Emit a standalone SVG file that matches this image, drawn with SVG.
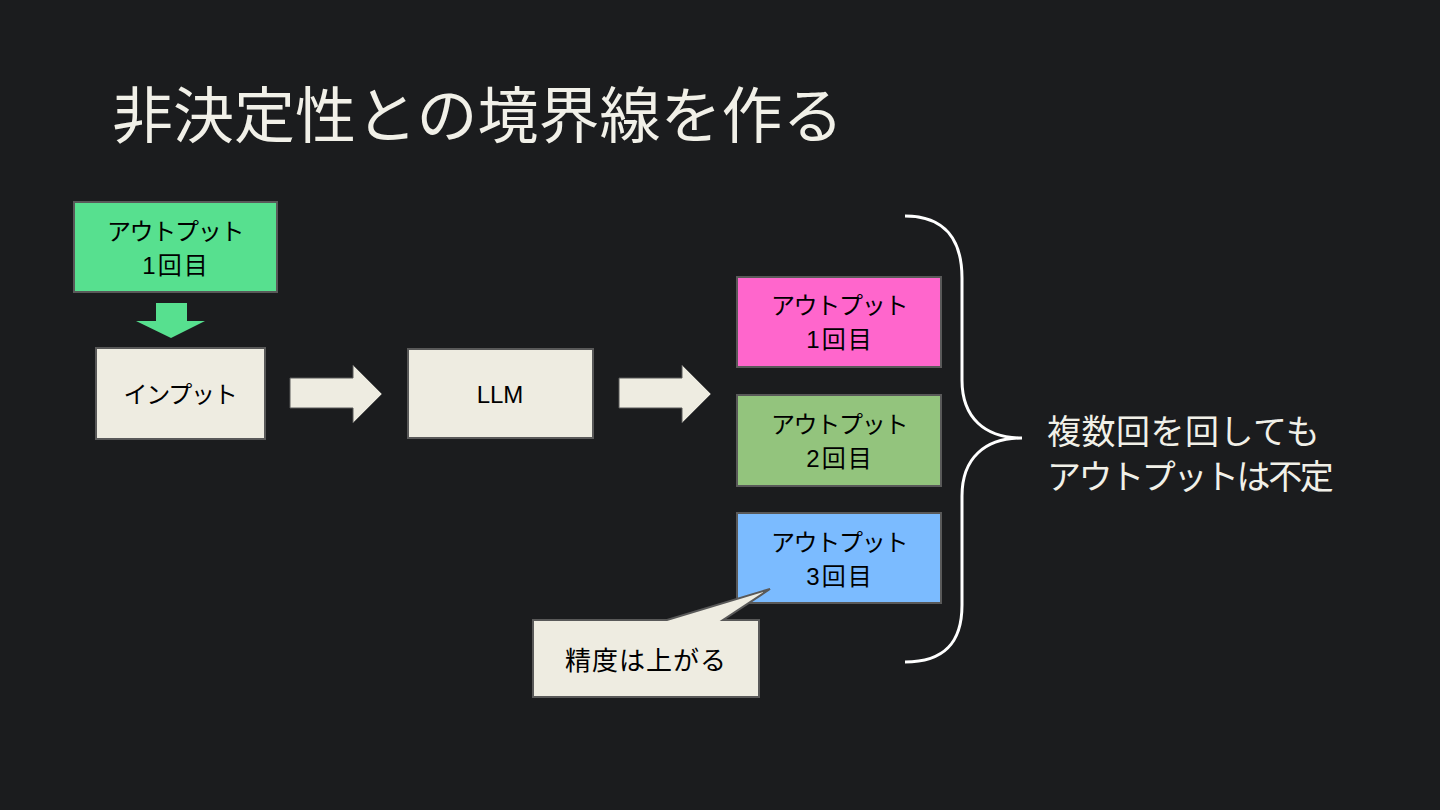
<svg xmlns="http://www.w3.org/2000/svg" width="1440" height="810" viewBox="0 0 1440 810">
<style>
.bg{fill:#1b1c1e}
.box{stroke:#595959;stroke-width:2}
.cream{fill:#eeece1}
.t{font-family:"Liberation Sans","Noto Sans CJK JP",sans-serif;font-size:24px;fill:#000;text-anchor:middle}
.k{letter-spacing:-1.3px}
.n{letter-spacing:2px}
.c{font-size:26px;letter-spacing:1px}
.w{font-family:"Noto Sans CJK JP",sans-serif;fill:#f1f0e8}
.arrow{fill:#eeece1;stroke:#595959;stroke-width:1}
</style>
<rect class="bg" x="0" y="0" width="1440" height="810"/>
<text class="w" x="112" y="138" font-size="61">非決定性との境界線を作る</text>

<g id="connectors">
  <polygon id="arrow-down" points="156,303 187,303 187,321 205,321 171,338 136,321 156,321" fill="#57e08f"/>
  <polygon id="arrow-1" class="arrow" points="290,378 353,378 353,365 382,394 353,423 353,408 290,408"/>
  <polygon id="arrow-2" class="arrow" points="619,378 682,378 682,365 711,394 682,423 682,408 619,408"/>
  <path id="brace" d="M905,216 C945,216 962,240 962,278 L962,380 C962,418 985,438 1022,438 C985,438 962,458 962,496 L962,605 C962,642 945,662 905,662" fill="none" stroke="#ffffff" stroke-width="3"/>
</g>

<g id="output-first">
  <rect class="box" x="74" y="202" width="203" height="90" fill="#57e08f"/>
  <text class="t k" x="175" y="240">アウトプット</text>
  <text class="t n" x="176" y="274">1回目</text>
</g>
<g id="input">
  <rect class="box cream" x="96" y="348" width="169" height="91"/>
  <text class="t k" x="180" y="403">インプット</text>
</g>
<g id="llm">
  <rect class="box cream" x="408" y="349" width="185" height="89"/>
  <text class="t" x="500" y="403">LLM</text>
</g>
<g id="output-1">
  <rect class="box" x="737" y="277" width="204" height="90" fill="#ff66cc"/>
  <text class="t k" x="839" y="314">アウトプット</text>
  <text class="t n" x="840" y="348">1回目</text>
</g>
<g id="output-2">
  <rect class="box" x="737" y="395" width="204" height="91" fill="#93c47d"/>
  <text class="t k" x="839" y="433">アウトプット</text>
  <text class="t n" x="840" y="467">2回目</text>
</g>
<g id="output-3">
  <rect class="box" x="737" y="513" width="204" height="90" fill="#7bbbff"/>
  <text class="t k" x="839" y="551">アウトプット</text>
  <text class="t n" x="840" y="585">3回目</text>
</g>
<g id="callout">
  <path class="box cream" d="M533,620 L667,620 L770,589 L723,620 L759,620 L759,697 L533,697 Z"/>
  <text class="t c" x="646" y="670">精度は上がる</text>
</g>
<g id="note">
  <text class="w" x="1047" y="444" font-size="34" letter-spacing="0.5">複数回を回しても</text>
  <text class="w" x="1047" y="489" font-size="34" letter-spacing="-2.4">アウトプットは不定</text>
</g>
</svg>
